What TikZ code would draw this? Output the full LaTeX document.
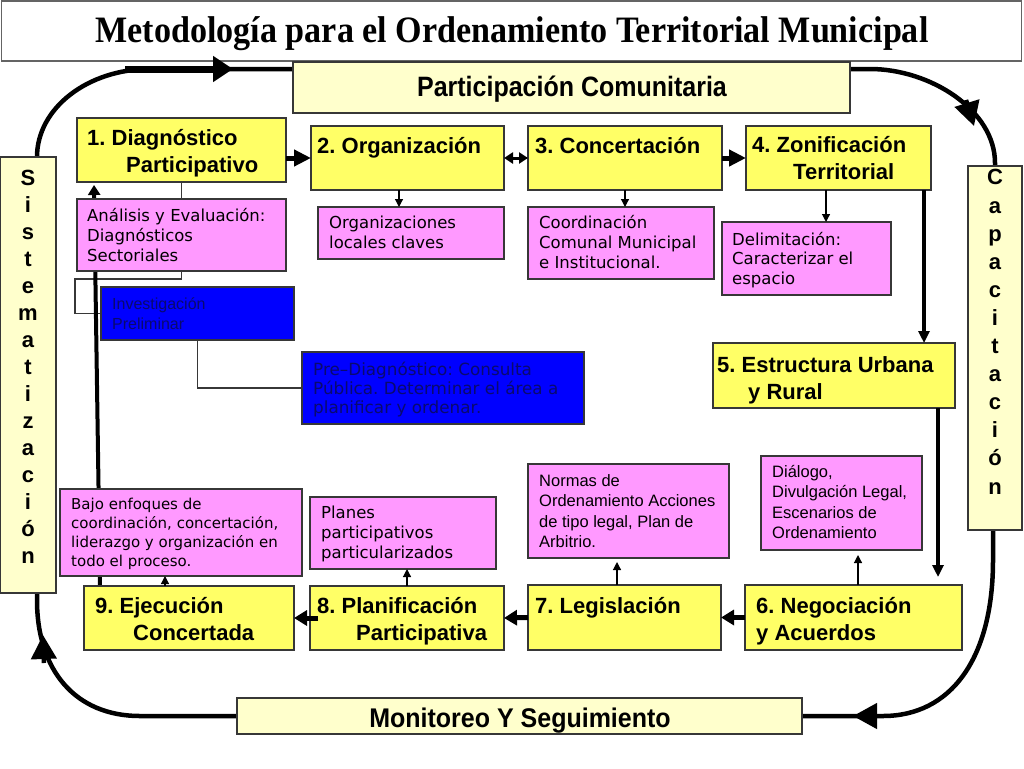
\documentclass[tikz,border=0pt]{standalone}
\usepackage{fontspec}
\setmainfont{Liberation Sans}
\newfontfamily\arialf{Liberation Sans}
\newfontfamily\timesf{Liberation Serif}
\newfontfamily\verdf{DejaVu Sans}
\usetikzlibrary{arrows.meta,backgrounds,calc}
\definecolor{ybright}{RGB}{255,255,102}
\definecolor{ylight}{RGB}{255,255,204}
\definecolor{pinkc}{RGB}{255,153,255}
\definecolor{bluec}{RGB}{0,0,255}
\definecolor{navyc}{RGB}{10,10,110}
\definecolor{edgec}{RGB}{55,55,55}
\definecolor{titleedge}{RGB}{100,100,100}
\frenchspacing
\tikzset{
  box/.style={draw=edgec, line width=1.2pt, inner sep=0pt, outer sep=0pt},
  ybox/.style={box, fill=ybright},
  lbox/.style={box, fill=ylight},
  pbox/.style={box, fill=pinkc},
  bbox/.style={box, fill=bluec},
  ytxt/.style={font=\arialf\bfseries\fontsize{22}{27}\selectfont, align=left, anchor=base west, inner sep=0pt},
  vtxt/.style={font=\verdf\fontsize{16.5}{20}\selectfont, align=left, anchor=base west, inner sep=0pt},
  atxt/.style={font=\arialf\fontsize{16.5}{20.5}\selectfont, align=left, anchor=base west, inner sep=0pt},
  vert/.style={font=\arialf\bfseries\fontsize{22}{27}\selectfont, align=center, anchor=base, inner sep=0pt},
  ftxt/.style={font=\arialf\bfseries\fontsize{25}{28}\selectfont, anchor=base, inner sep=0pt},
  loopline/.style={line width=4.5pt},
  loophead/.style={line width=4.5pt, -{Triangle[length=24pt,width=25pt]}},
  thinline/.style={draw=edgec, line width=1.3pt},
  thinarrow/.style={line width=1.2pt, -{Triangle[length=8pt,width=8pt]}},
  hconn/.style={line width=5pt, -{Triangle[length=17pt,width=16pt]}},
  bconn/.style={line width=5pt, -{Triangle[length=13pt,width=15pt]}},
  vconn/.style={line width=4pt, -{Triangle[length=12pt,width=11pt]}},
  dconn/.style={line width=3pt, {Triangle[length=9pt,width=11pt]}-{Triangle[length=9pt,width=11pt]}}
}
\begin{document}
\begin{tikzpicture}[x=1pt,y=-1pt]
\useasboundingbox (0,0) rectangle (1024,768);
% title
\node[draw=titleedge, line width=1.5pt, minimum width=1020pt, minimum height=60pt, inner sep=0pt] (tbox) at (511.5,31) {};
\node[font=\timesf\bfseries\fontsize{34.5}{40}\selectfont, anchor=base, inner sep=0pt] (title) at (512,43) {\scalebox{0.988}[1.08]{Metodología para el Ordenamiento Territorial Municipal}};
% frame boxes
\node[lbox, minimum width=557pt, minimum height=51pt] (partc) at (571.5,87.5) {};
\node[ftxt] (partct) at (572,96) {\scalebox{1}[1.12]{Participación Comunitaria}};
\node[lbox, minimum width=565pt, minimum height=36pt] (moni) at (519.5,716) {};
\node[ftxt] (monit) at (520,727) {\scalebox{1}[1.08]{Monitoreo Y Seguimiento}};
\node[lbox, minimum width=56pt, minimum height=436pt] (sist) at (28,375) {};
\node[vert] (sistt) at (28,563) {S\\i\\s\\t\\e\\m\\a\\t\\i\\z\\a\\c\\i\\ó\\n};
\node[lbox, minimum width=54pt, minimum height=364pt] (capa) at (995,348) {};
\node[vert, font=\arialf\bfseries\fontsize{22}{28.1}\selectfont] (capat) at (995,494) {C\\a\\p\\a\\c\\i\\t\\a\\c\\i\\ó\\n};
% yellow step boxes
\node[ybox, minimum width=209pt, minimum height=64pt] (b1) at (181.5,150) {};
\node[ybox, minimum width=193pt, minimum height=64pt] (b2) at (407.5,158) {};
\node[ybox, minimum width=194pt, minimum height=64pt] (b3) at (625,158) {};
\node[ybox, minimum width=185pt, minimum height=64pt] (b4) at (838.5,158) {};
\node[ybox, minimum width=242pt, minimum height=65pt] (b5) at (834,375.5) {};
\node[ybox, minimum width=217pt, minimum height=65pt] (b6) at (853.5,617.5) {};
\node[ybox, minimum width=193pt, minimum height=65pt] (b7) at (624.5,617.5) {};
\node[ybox, minimum width=194pt, minimum height=64pt] (b8) at (407,618) {};
\node[ybox, minimum width=210pt, minimum height=64pt] (b9) at (189,618) {};
% pink and blue boxes
\node[pbox, minimum width=209pt, minimum height=72pt] (ana) at (181.5,235) {};
\node[pbox, minimum width=186pt, minimum height=52pt] (org) at (411,233) {};
\node[pbox, minimum width=186pt, minimum height=72pt] (coo) at (621,243) {};
\node[pbox, minimum width=169pt, minimum height=73pt] (del) at (806.5,258.5) {};
\node[pbox, minimum width=242pt, minimum height=87pt] (baj) at (181,532.5) {};
\node[pbox, minimum width=186pt, minimum height=72pt] (pla) at (403,533) {};
\node[pbox, minimum width=201pt, minimum height=94pt] (nor) at (628.5,511) {};
\node[pbox, minimum width=161pt, minimum height=94pt] (dia) at (841.5,503) {};
\node[bbox, minimum width=193pt, minimum height=53pt] (inv) at (197.5,313.5) {};
\node[bbox, minimum width=282pt, minimum height=72pt] (pre) at (443,388) {};
% texts of step boxes (anchor = baseline of last line)
\node[ytxt] (t1) at (87,172) {1. Diagnóstico\\\hspace*{39pt}Participativo};
\node[ytxt] (t2) at (317,153) {2. Organización};
\node[ytxt] (t3) at (535,153) {3. Concertación};
\node[ytxt] (t4) at (752,179) {4. Zonificación\\\hspace*{41pt}Territorial};
\node[ytxt] (t5) at (717,399) {5. Estructura Urbana\\\hspace*{31pt}y Rural};
\node[ytxt] (t6) at (756,640) {6. Negociación\\y Acuerdos};
\node[ytxt] (t7) at (535,613) {7. Legislación};
\node[ytxt] (t8) at (317,640) {8. Planificación\\\hspace*{39pt}Participativa};
\node[ytxt] (t9) at (95,640) {9. Ejecución\\\hspace*{38pt}Concertada};
% texts of pink / blue boxes
\node[vtxt] (tana) at (87,261) {Análisis y Evaluación:\\Diagnósticos\\Sectoriales};
\node[vtxt] (torg) at (329,248) {Organizaciones\\locales claves};
\node[vtxt] (tcoo) at (539,268) {Coordinación\\Comunal Municipal\\e Institucional.};
\node[vtxt, font=\verdf\fontsize{16.5}{19.5}\selectfont] (tdel) at (732,284) {Delimitación:\\Caracterizar el\\espacio};
\node[vtxt, font=\verdf\fontsize{15}{19}\selectfont] (tbaj) at (71,566) {Bajo enfoques de\\coordinación, concertación,\\liderazgo y organización en\\todo el proceso.};
\node[vtxt] (tpla) at (321,558) {Planes\\participativos\\particularizados};
\node[atxt] (tnor) at (539,547.5) {Normas de\\Ordenamiento Acciones\\de tipo legal, Plan de\\Arbitrio.};
\node[atxt] (tdia) at (772,538.5) {Diálogo,\\Divulgación Legal,\\Escenarios de\\Ordenamiento};
\node[atxt, text=navyc, font=\arialf\fontsize{16}{20}\selectfont] (tinv) at (112,329) {Investigación\\Preliminar};
\node[vtxt, text=navyc, font=\verdf\fontsize{16.8}{19}\selectfont] (tpre) at (313,413) {Pre–Diagnóstico: Consulta\\Pública. Determinar el área a\\planificar y ordenar.};
% background lines
\begin{pgfonlayer}{background}
\draw[loopline] ([xshift=9pt]sist.north) .. controls (37,108) and (88,69) .. (150,69) -- ([yshift=-7pt]partc.north west);
\draw[loopline] ([yshift=-7pt]partc.north east) -- (870,69) .. controls (930,69) and (995,110) .. (995,163) -- (capa.north);
\draw[loopline] ([xshift=-2pt]capa.south) -- (993,560) .. controls (993,660) and (950,716) .. (883,716) -- (moni.east);
\draw[loopline] (moni.west) -- (140,716) .. controls (75,716) and (37,670) .. (37,600) -- ([xshift=9pt]sist.south);
\draw[thinline] (b1.south) |- (75,279) |- (inv.west);
\draw[thinline] (inv.south) |- (pre.west);
\draw[line width=4pt, -{Triangle[length=10pt,width=12pt]}] ([xshift=-89pt]b9.north) -- ([xshift=-87.5pt,yshift=-3pt]b1.south);
\end{pgfonlayer}
% loop arrow heads
\coordinate (ta0) at (125,69); \coordinate (ta1) at (233,69);
\draw[line width=7pt, -{Triangle[length=20pt,width=25pt]}] (ta0) -- (ta1);
\coordinate (ra0) at (966,100); \coordinate (ra1) at (974,126);
\draw[loophead] (ra0) -- (ra1);
\coordinate (ba0) at (880,716); \coordinate (ba1) at (853,716);
\draw[loophead] (ba0) -- (ba1);
\coordinate (la0) at (44,663); \coordinate (la1) at (43,635);
\draw[loophead] (la0) -- (la1);
% connectors between steps
\draw[hconn] (b2.west -| b1.east) -- (b2.west);
\draw[dconn] (b2.east) -- (b3.west);
\draw[hconn] (b3.east) -- (b4.west);
\coordinate (p45) at ([xshift=-7pt]b4.south east);
\draw[vconn] (p45) -- (p45 |- b5.north);
\coordinate (p56) at ([xshift=-17pt]b5.south east);
\draw[vconn] (p56) -- ([yshift=8pt]p56 |- b6.north);
\draw[bconn] (b6.west) -- (b7.east);
\draw[bconn] (b7.west) -- (b8.east);
\draw[bconn] ([xshift=8pt]b8.west) -- (b9.east);
% thin arrows to detail boxes
\draw[thinarrow] ([xshift=-8.5pt]b2.south) -- ([xshift=-12pt]org.north);
\draw[thinarrow] (b3.south) -- ([xshift=4pt]coo.north);
\draw[thinarrow] ([xshift=-12.5pt]b4.south) -- ([xshift=19.5pt]del.north);
\draw[thinarrow] ([xshift=4.5pt]b6.north) -- ([xshift=16.5pt,yshift=-5pt]dia.south);
\draw[thinarrow] ([xshift=-7.5pt]b7.north) -- ([xshift=-11.5pt,yshift=-4pt]nor.south);
\draw[thinarrow] (b8.north) -- ([xshift=4pt]pla.south);
\draw[thinarrow] ([xshift=-24pt]b9.north) -- ([xshift=-16pt]baj.south);
\end{tikzpicture}
\end{document}
